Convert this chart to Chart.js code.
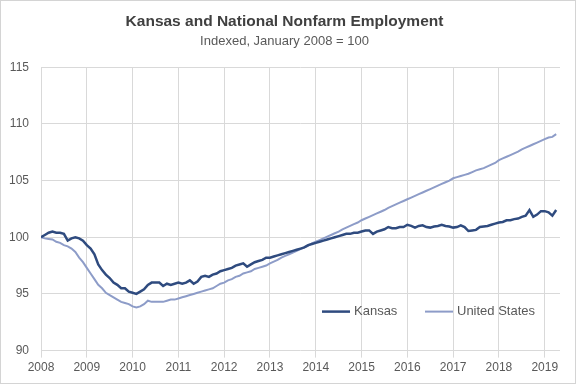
<!DOCTYPE html>
<html>
<head>
<meta charset="utf-8">
<script src="https://cdn.jsdelivr.net/npm/chart.js@4"></script>
<style>
  html, body { margin: 0; padding: 0; background: #ffffff; }
  #wrap { width: 576px; height: 384px; }
</style>
</head>
<body>
<div id="wrap"><canvas id="chartEmpleo" width="576" height="384"></canvas></div>
<script>
// Monthly index, Jan 2008 = 100 (Jan 2008 .. Apr 2019)
const startYear = 2008;
const yearTicks = [2008, 2009, 2010, 2011, 2012, 2013, 2014, 2015, 2016, 2017, 2018, 2019];
const yTicks = [90, 95, 100, 105, 110, 115];

const kansas = [
  100.0, 100.2, 100.4, 100.5, 100.4, 100.4, 100.3, 99.7, 99.9, 100.0, 99.9, 99.7,   // 2008
  99.3, 99.0, 98.5, 97.6, 97.1, 96.7, 96.4, 96.0, 95.8, 95.5, 95.5, 95.2,           // 2009
  95.1, 95.0, 95.2, 95.4, 95.8, 96.0, 96.0, 96.0, 95.7, 95.9, 95.8, 95.9,           // 2010
  96.0, 95.9, 96.0, 96.2, 95.9, 96.1, 96.5, 96.6, 96.5, 96.7, 96.8, 97.0,           // 2011
  97.1, 97.2, 97.3, 97.5, 97.6, 97.7, 97.4, 97.6, 97.8, 97.9, 98.0, 98.2,           // 2012
  98.2, 98.3, 98.4, 98.5, 98.6, 98.7, 98.8, 98.9, 99.0, 99.1, 99.3, 99.4,           // 2013
  99.5, 99.6, 99.7, 99.8, 99.9, 100.0, 100.1, 100.2, 100.3, 100.3, 100.4, 100.4,    // 2014
  100.5, 100.6, 100.6, 100.3, 100.5, 100.6, 100.7, 100.9, 100.8, 100.8, 100.9, 100.9, // 2015
  101.1, 101.0, 100.85, 101.0, 101.05, 100.9, 100.85, 100.95, 101.0, 101.1, 101.0, 100.95, // 2016
  100.85, 100.9, 101.05, 100.9, 100.55, 100.6, 100.65, 100.9, 100.95, 101.0, 101.1, 101.2, // 2017
  101.3, 101.35, 101.5, 101.5, 101.6, 101.65, 101.8, 101.9, 102.4, 101.8, 102.0, 102.3,  // 2018
  102.3, 102.2, 101.9, 102.4                                                          // 2019
];

const unitedStates = [
  100.0, 99.9, 99.85, 99.8, 99.6, 99.5, 99.3, 99.2, 99.0, 98.7, 98.2, 97.8,         // 2008
  97.3, 96.8, 96.3, 95.8, 95.5, 95.1, 94.9, 94.7, 94.5, 94.3, 94.2, 94.1,           // 2009
  93.9, 93.8, 93.9, 94.1, 94.4, 94.3, 94.3, 94.3, 94.3, 94.4, 94.5, 94.5,           // 2010
  94.6, 94.7, 94.8, 94.9, 95.0, 95.1, 95.2, 95.3, 95.4, 95.5, 95.7, 95.9,           // 2011
  96.0, 96.2, 96.3, 96.5, 96.6, 96.8, 96.9, 97.0, 97.2, 97.3, 97.4, 97.5,           // 2012
  97.7, 97.85, 98.0, 98.2, 98.35, 98.5, 98.65, 98.8, 98.95, 99.1, 99.25, 99.45,     // 2013
  99.6, 99.75, 99.9, 100.05, 100.2, 100.35, 100.5, 100.7, 100.85, 101.0, 101.15, 101.3, // 2014
  101.5, 101.65, 101.8, 101.95, 102.1, 102.25, 102.4, 102.6, 102.75, 102.9, 103.05, 103.2, // 2015
  103.35, 103.5, 103.65, 103.8, 103.95, 104.1, 104.25, 104.4, 104.55, 104.7, 104.85, 105.0, // 2016
  105.2, 105.3, 105.4, 105.5, 105.6, 105.75, 105.9, 106.0, 106.1, 106.25, 106.4, 106.55,    // 2017
  106.8, 106.95, 107.1, 107.25, 107.4, 107.55, 107.75, 107.9, 108.05, 108.2, 108.35, 108.5, // 2018
  108.65, 108.8, 108.85, 109.1                                                       // 2019
];

// Colores
const kansasColor = "#2f4b7f";
const usColor = "#8d9cc8";
const gridColor = "#d9d9d9";
const textColor = "#595959";
const titleColor = "#404040";
const fontFamily = "'Liberation Sans', Arial, sans-serif";

const toPoints = (arr) => arr.map((v, i) => ({ x: i, y: v }));

// fondo + borde exterior
const frame = {
  id: "frame",
  beforeDraw(chart) {
    const { ctx, width, height } = chart;
    ctx.save();
    ctx.fillStyle = "#ffffff";
    ctx.fillRect(0, 0, width, height);
    ctx.strokeStyle = "#d4d4d4";
    ctx.lineWidth = 1;
    ctx.strokeRect(0.5, 0.5, width - 1, height - 1);
    ctx.restore();
  },
};

// leyenda dentro del área del gráfico
const insideLegend = {
  id: "insideLegend",
  afterDatasetsDraw(chart) {
    const { ctx, chartArea } = chart;
    const y = chartArea.bottom - 39;
    const items = [
      { label: "Kansas", color: kansasColor, width: 2.5, x: 322 },
      { label: "United States", color: usColor, width: 2, x: 425 },
    ];
    ctx.save();
    ctx.font = "13px " + fontFamily;
    ctx.textBaseline = "middle";
    items.forEach((it) => {
      ctx.strokeStyle = it.color;
      ctx.lineWidth = it.width;
      ctx.beginPath();
      ctx.moveTo(it.x, y);
      ctx.lineTo(it.x + 28, y);
      ctx.stroke();
      ctx.fillStyle = textColor;
      ctx.fillText(it.label, it.x + 32, y);
    });
    ctx.restore();
  },
};

const ctx = document.getElementById("chartEmpleo");
new Chart(ctx.getContext("2d"), {
  type: "line",
  data: {
    datasets: [
      {
        label: "Kansas",
        data: toPoints(kansas),
        borderColor: kansasColor,
        borderWidth: 2.5,
        pointRadius: 0,
        tension: 0,
        order: 0,
      },
      {
        label: "United States",
        data: toPoints(unitedStates),
        borderColor: usColor,
        borderWidth: 2,
        pointRadius: 0,
        tension: 0,
        order: 1,
      },
    ],
  },
  options: {
    responsive: false,
    animation: false,
    layout: { padding: { left: 9, right: 16, top: 0, bottom: 6 } },
    plugins: {
      legend: { display: false },
      tooltip: { enabled: false },
      title: {
        display: true,
        text: "Kansas and National Nonfarm Employment",
        color: titleColor,
        font: { family: fontFamily, size: 15.5, weight: "bold" },
        padding: { top: 12, bottom: 3 },
      },
      subtitle: {
        display: true,
        text: "Indexed, January 2008 = 100",
        color: textColor,
        font: { family: fontFamily, size: 13 },
        padding: { top: 0, bottom: 18 },
      },
    },
    scales: {
      x: {
        type: "linear",
        min: 0,
        max: 136,
        border: { display: false },
        grid: { color: gridColor, tickLength: 7, tickColor: gridColor },
        ticks: {
          stepSize: 12,
          includeBounds: false,
          autoSkip: false,
          maxRotation: 0,
          padding: 3,
          color: textColor,
          font: { family: fontFamily, size: 12 },
          callback: (v) => {
            const yr = startYear + v / 12;
            return yearTicks.includes(yr) ? String(yr) : "";
          },
        },
      },
      y: {
        min: yTicks[0],
        max: yTicks[yTicks.length - 1],
        border: { display: false },
        grid: { color: gridColor, drawTicks: false },
        afterFit: (scale) => { scale.width = 32; },
        ticks: {
          stepSize: 5,
          padding: 12,
          color: textColor,
          font: { family: fontFamily, size: 12 },
        },
      },
    },
  },
  plugins: [frame, insideLegend],
});
</script>
</body>
</html>
